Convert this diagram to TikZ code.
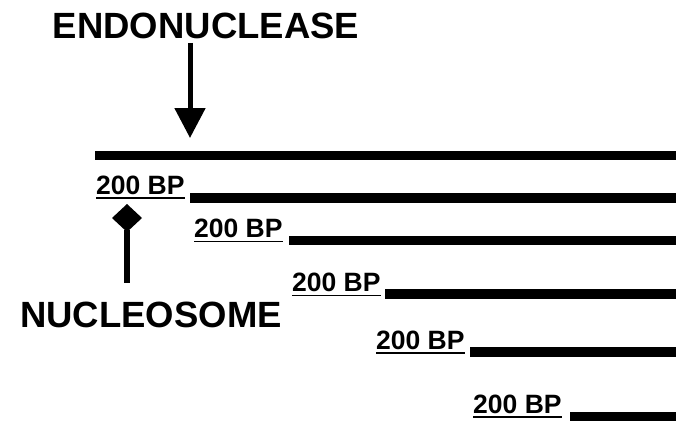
\documentclass[tikz,border=0pt]{standalone}
\usepackage{fontspec}
\setmainfont{Liberation Sans}
\usetikzlibrary{arrows.meta}
\begin{document}
\begin{tikzpicture}[x=1pt,y=-1pt,
  bigtext/.style={font=\fontsize{36.5}{40}\selectfont\bfseries, inner sep=0pt, anchor=base},
  bplabel/.style={font=\fontsize{26.5}{30}\selectfont\bfseries, inner sep=0pt, anchor=base west},
  dna/.style={line width=9.3pt},
  uline/.style={line width=1.6pt},
  stem/.style={line width=5.5pt}]
\useasboundingbox (0,0) rectangle (676,420);
% titles
\node[bigtext] (endo) at (206,39) {ENDONUCLEASE};
\node[bigtext, anchor=base west] (nuc) at (20,327) {NUCLEOSOME};
% DNA fragments
\coordinate (b1s) at (95,155.4);  \coordinate (b1e) at (676,155.4);
\coordinate (b2s) at (190,198);   \coordinate (b2e) at (676,198);
\coordinate (b3s) at (289,240.3); \coordinate (b3e) at (676,240.3);
\coordinate (b4s) at (385,294);   \coordinate (b4e) at (676,294);
\coordinate (b5s) at (470,352);   \coordinate (b5e) at (676,352);
\coordinate (b6s) at (570,416.4); \coordinate (b6e) at (676,416.4);
\foreach \i in {1,...,6}{\draw[dna] (b\i s) -- (b\i e);}
% labels
\node[bplabel] (l1) at (96,194) {200 BP};
\node[bplabel] (l2) at (194,237.7) {200 BP};
\node[bplabel] (l3) at (292,291.7) {200 BP};
\node[bplabel] (l4) at (376,349.3) {200 BP};
\node[bplabel] (l5) at (473,413) {200 BP};
\foreach \i in {1,...,5}{\draw[uline] ([yshift=-3.8pt]l\i.base west) -- ([yshift=-3.8pt]l\i.base east);}
% endonuclease arrow
\coordinate (as) at (190,43);
\coordinate (at) at (190,138);
\draw[line width=5pt, -{Triangle[width=30pt,length=30pt]}] (as) -- (at);
% nucleosome marker
\coordinate (nd) at (127,218);
\fill (127,204) -- (142,218) -- (127,232) -- (112,218) -- cycle;
\coordinate (ns) at (127,230);
\coordinate (ne) at (127,283);
\draw[stem] (ns) -- (ne);
\end{tikzpicture}
\end{document}
